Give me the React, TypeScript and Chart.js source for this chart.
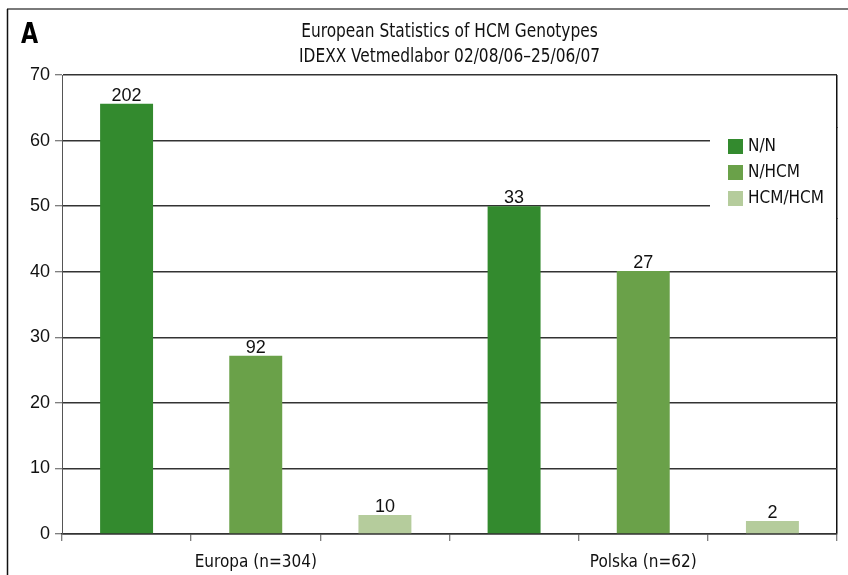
import React, { useEffect, useRef } from 'react';
import { Chart, registerables } from 'chart.js';

Chart.register(...registerables);

// ---- data ----
const groups = ['Europa (n=304)', 'Polska (n=62)'];
const seriesNames = ['N/N', 'N/HCM', 'HCM/HCM'];
const nnValues = [65.6, 50.0];
const nhcmValues = [27.2, 40.1];
const hcmValues = [2.9, 2.0];
const nnCounts = [202, 33];
const nhcmCounts = [92, 27];
const hcmCounts = [10, 2];
const yTicks = [0, 10, 20, 30, 40, 50, 60, 70];
const titleLines = ['European Statistics of HCM Genotypes', 'IDEXX Vetmedlabor 02/08/06\u201325/06/07'];
const panelLetter = 'A';

const colors = ['#338a2e', '#6aa149', '#b5cc9c'];
const COND = "'Liberation Sans Narrow', 'DejaVu Sans Condensed', 'Roboto Condensed', 'Liberation Sans', Arial, sans-serif";
const REG = "'Liberation Sans', Arial, sans-serif";

// each group occupies 3 slots (one per series)
const slotLabels: string[] = [];
groups.forEach((g) => { slotLabels.push('', g, ''); });

function slotData(values: number[], seriesIdx: number) {
  const arr: (number | null)[] = [];
  values.forEach((v) => {
    for (let s = 0; s < 3; s++) arr.push(s === seriesIdx ? v : null);
  });
  return arr;
}
const allValues = [nnValues, nhcmValues, hcmValues];
const allCounts = [nnCounts, nhcmCounts, hcmCounts];

function squeezedText(ctx: any, text: string, x: number, y: number, sx: number) {
  ctx.save();
  ctx.translate(x, y);
  ctx.scale(sx, 1);
  ctx.fillText(text, 0, 0);
  ctx.restore();
}

const framePlugin = {
  id: 'frame',
  beforeDraw(chart: any) {
    const { ctx, width, height, chartArea } = chart;
    ctx.save();
    ctx.fillStyle = '#ffffff';
    ctx.fillRect(0, 0, width, height);
    // outer frame
    ctx.strokeStyle = '#7a7a7a';
    ctx.lineWidth = 2;
    ctx.beginPath();
    ctx.moveTo(7, 9);
    ctx.lineTo(width, 9);
    ctx.stroke();
    ctx.strokeStyle = '#111';
    ctx.lineWidth = 1.5;
    ctx.beginPath();
    ctx.moveTo(7.5, 9);
    ctx.lineTo(7.5, height);
    ctx.stroke();
    // panel letter
    ctx.fillStyle = '#000';
    ctx.font = `bold 29px ${COND}`;
    ctx.textAlign = 'left';
    ctx.textBaseline = 'alphabetic';
    squeezedText(ctx, panelLetter, 21, 43, 0.85);
    // title
    const cx = (chartArea.left + chartArea.right) / 2;
    ctx.font = `19px ${COND}`;
    ctx.fillStyle = '#111';
    ctx.textAlign = 'center';
    squeezedText(ctx, titleLines[0], cx, 37, 0.9);
    squeezedText(ctx, titleLines[1], cx, 62, 0.9);
    ctx.restore();
  },
};

const valueLabelPlugin = {
  id: 'valueLabels',
  afterDatasetsDraw(chart: any) {
    const { ctx } = chart;
    ctx.save();
    ctx.font = `18px ${REG}`;
    ctx.fillStyle = '#111';
    ctx.textAlign = 'center';
    ctx.textBaseline = 'alphabetic';
    chart.data.datasets.forEach((ds: any, di: number) => {
      const meta = chart.getDatasetMeta(di);
      meta.data.forEach((el: any, i: number) => {
        if (ds.data[i] == null) return;
        const g = Math.floor(i / 3);
        ctx.fillText(String(allCounts[di][g]), el.x, el.y - 3);
      });
    });
    ctx.restore();
  },
};

const legendPlugin = {
  id: 'boxLegend',
  afterDraw(chart: any) {
    const { ctx, chartArea } = chart;
    const boxLeft = chartArea.right - 127;
    const boxTop = 128;
    const boxH = 90;
    ctx.save();
    ctx.fillStyle = '#ffffff';
    ctx.fillRect(boxLeft, boxTop, chartArea.right - boxLeft + 3, boxH);
    // restore plot right border over the box
    const bx = Math.round(chartArea.right - 0.75) + 0.75;
    ctx.strokeStyle = '#111';
    ctx.lineWidth = 1.5;
    ctx.beginPath();
    ctx.moveTo(bx, boxTop - 1);
    ctx.lineTo(bx, boxTop + boxH + 1);
    ctx.stroke();
    ctx.font = `17px ${COND}`;
    ctx.textAlign = 'left';
    ctx.textBaseline = 'middle';
    chart.data.datasets.forEach((ds: any, i: number) => {
      const y = 139 + i * 26;
      ctx.fillStyle = ds.backgroundColor;
      ctx.fillRect(chartArea.right - 109, y, 15, 15);
      ctx.fillStyle = '#111';
      ctx.fillText(ds.label, chartArea.right - 89, y + 8);
    });
    ctx.restore();
  },
};

export default function App() {
  const ref = useRef<HTMLCanvasElement | null>(null);
  useEffect(() => {
    if (!ref.current) return;
    const chart = new Chart(ref.current, {
      type: 'bar',
      data: {
        labels: slotLabels,
        datasets: seriesNames.map((name, i) => ({
          label: name,
          data: slotData(allValues[i], i),
          backgroundColor: colors[i],
          borderWidth: 0,
          grouped: false,
          barPercentage: 0.41,
          categoryPercentage: 1,
        })),
      },
      options: {
        animation: false,
        responsive: false,
        devicePixelRatio: 1,
        layout: { padding: { top: 75, right: 11, bottom: 0, left: 0 } },
        plugins: {
          legend: { display: false },
          title: { display: false },
          tooltip: { enabled: false },
        },
        scales: {
          x: {
            type: 'category',
            offset: true,
            grid: {
              offset: true,
              drawOnChartArea: true,
              color: (c: any) => (c.type === 'tick' ? 'rgba(0,0,0,0)' : '#111'),
              lineWidth: 1.5,
              tickColor: '#555',
              tickLength: 7,
              tickWidth: 1,
            },
            border: { display: true, color: '#333', width: 1.5 },
            ticks: {
              autoSkip: false,
              maxRotation: 0,
              minRotation: 0,
              padding: 11,
              color: '#111',
              font: { family: COND, size: 17 },
            },
            afterFit: (s: any) => { s.height = 41; },
          },
          y: {
            min: 0,
            max: 70,
            afterBuildTicks: (s: any) => { s.ticks = yTicks.map((v) => ({ value: v })); },
            grid: {
              color: '#333',
              lineWidth: 1.5,
              tickColor: '#555',
              tickLength: 7,
              tickWidth: 1,
            },
            border: { display: true, color: '#555', width: 1 },
            ticks: {
              padding: 5,
              color: '#111',
              font: { family: REG, size: 18 },
            },
            afterFit: (s: any) => { s.width = 62; },
          },
        },
      },
      plugins: [framePlugin, valueLabelPlugin, legendPlugin],
    });
    return () => chart.destroy();
  }, []);
  return (
    <div style={{ position: 'fixed', left: 0, top: 0, width: 848, height: 575, background: '#fff' }}>
      <canvas ref={ref} width={848} height={575} style={{ display: 'block', width: 848, height: 575 }} />
    </div>
  );
}
